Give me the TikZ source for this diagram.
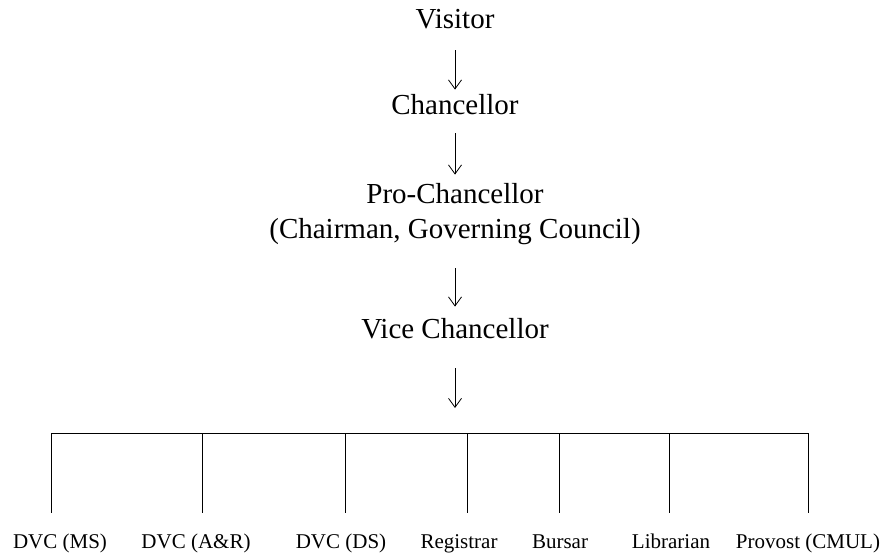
\documentclass[tikz,border=0pt]{standalone}
\usepackage{fontspec}
\setmainfont{Liberation Serif}
\usetikzlibrary{arrows.meta}
\begin{document}
\begin{tikzpicture}[x=1pt,y=1pt,
  line width=0.8pt,
  toplabel/.style={anchor=base,inner sep=0pt,text height=20pt,text depth=7pt,
    font=\fontsize{29}{34}\selectfont},
  botlabel/.style={anchor=base,inner sep=0pt,text height=15pt,text depth=4pt,
    font=\fontsize{21}{25}\selectfont},
  downarrow/.style={-{Straight Barb[length=9pt,width=13pt]}},
  branch/.style={shorten >=20pt}]
\useasboundingbox (0,0) rectangle (885,-556);

\node[toplabel] (vis) at (455,-29) {Visitor};
\node[toplabel] (chan) at (455,-115) {Chancellor};
\node[toplabel] (pc1) at (455,-203) {Pro-Chancellor};
\node[toplabel] (pc2) at (455,-238) {(Chairman, Governing Council)};
\node[toplabel] (vc) at (455,-338) {Vice Chancellor};

\draw[downarrow,shorten <=14pt,shorten >=5pt] (vis) -- (chan);
\draw[downarrow,shorten <=11pt,shorten >=8pt] (chan) -- (pc1);
\draw[downarrow,shorten <=23pt,shorten >=11pt] (pc2) -- (vc);

\coordinate (bar) at (455,-433);
\draw[downarrow,shorten <=23pt,shorten >=25pt] (vc) -- (bar);

\coordinate (t1) at (51,-433);
\coordinate (t2) at (202,-433);
\coordinate (t3) at (345,-433);
\coordinate (t4) at (467,-433);
\coordinate (t5) at (559,-433);
\coordinate (t6) at (669,-433);
\coordinate (t7) at (808,-433);

\node[botlabel] (l1) at (60,-548) {DVC (MS)};
\node[botlabel] (l2) at (196,-548) {DVC (A\&R)};
\node[botlabel] (l3) at (341,-548) {DVC (DS)};
\node[botlabel] (l4) at (459,-548) {Registrar};
\node[botlabel] (l5) at (560,-548) {Bursar};
\node[botlabel] (l6) at (671,-548) {Librarian};
\node[botlabel] (l7) at (808,-548) {Provost (CMUL)};

\draw (t1) -- (t7);
\foreach \i in {1,...,7}{
  \draw[branch] (t\i) -- (t\i |- l\i.north);
}
\end{tikzpicture}
\end{document}
